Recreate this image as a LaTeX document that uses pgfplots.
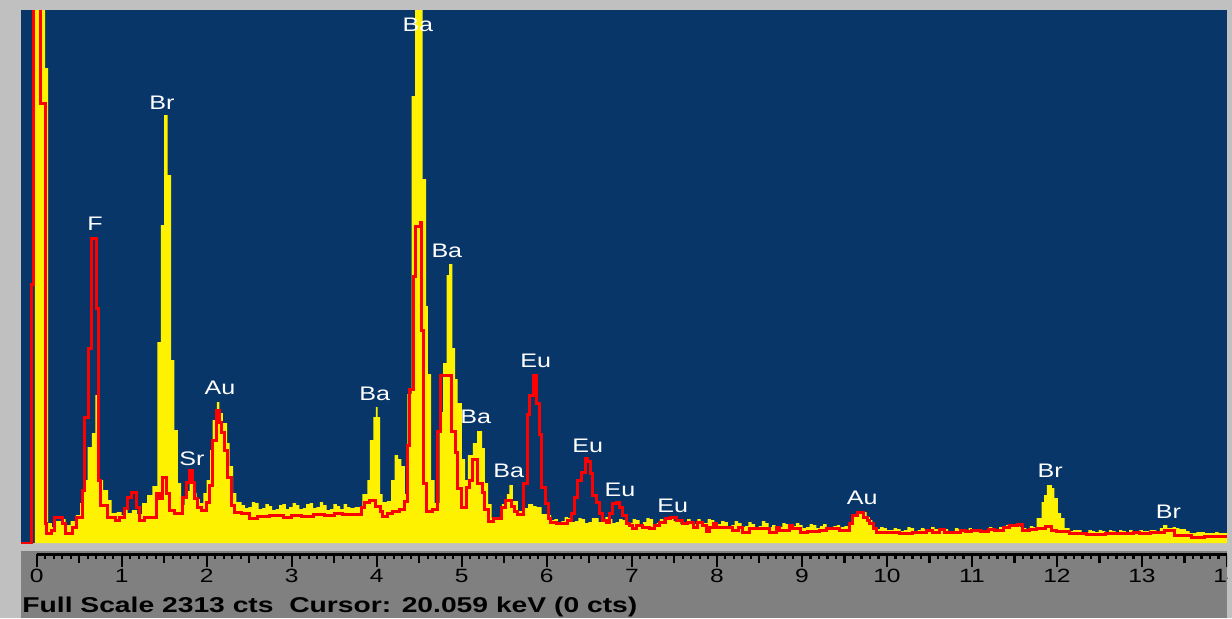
\documentclass[border=0pt]{standalone}
\usepackage{fontspec}
\setmainfont{Liberation Sans}
\newfontfamily\wfont[FakeStretch=1.28]{Liberation Sans}
\newfontfamily\wbfont[FakeStretch=1.32]{Liberation Sans}
\usepackage{pgfplots}
\pgfplotsset{compat=1.18}
\definecolor{bgblue}{HTML}{083668}
\definecolor{lgray}{HTML}{C0C0C0}
\definecolor{dgray}{HTML}{808080}
\tikzset{lbl/.style={text=white, font=\wfont\fontsize{9.8}{10}\selectfont, inner sep=0pt, anchor=center}}
\begin{document}
\begin{tikzpicture}
\path[use as bounding box] (0pt,0pt) rectangle (616pt,309pt);
\clip (0pt,0pt) rectangle (616pt,309pt);
\fill[lgray] (0pt,0pt) rectangle (616pt,309pt);
\fill[dgray] (10.5pt,0pt) rectangle (613.5pt,33.5pt);
\begin{axis}[at={(10.5pt,37.5pt)}, anchor=south west, scale only axis,
  width=603pt, height=266.5pt, xmin=-0.1846, xmax=14, ymin=0, ymax=533,
  axis background/.style={fill=bgblue}, axis line style={draw=none},
  xtick=\empty, ytick=\empty, clip=true]
\addplot[fill=yellow, draw=none, const plot mark left] coordinates {
(-0.19,0) (-0.02,600) (0.098,475) (0.133,20) (0.18,16) (0.22,22) (0.30,24) (0.34,18) (0.40,22) (0.46,28) (0.51,40) (0.55,63) (0.60,96) (0.65,110) (0.69,148) (0.71,116) (0.74,63) (0.78,53) (0.84,43) (0.88,30) (0.94,31) (1.00,28) (1.03,34) (1.07,30) (1.12,33) (1.18,29) (1.24,40) (1.30,48) (1.36,57) (1.42,201) (1.46,318) (1.50,428) (1.54,368) (1.58,183) (1.62,113) (1.66,60) (1.70,38) (1.74,46) (1.78,52) (1.80,63) (1.84,50) (1.88,44) (1.92,40) (1.96,50) (2.00,63) (2.04,93) (2.07,123) (2.12,141) (2.15,130) (2.19,120) (2.24,100) (2.27,77) (2.31,50) (2.35,41) (2.41,38) (2.45,35) (2.49,36) (2.53,41) (2.57,40) (2.61,34) (2.65,35) (2.69,39) (2.73,37) (2.77,33) (2.81,34) (2.85,38) (2.89,39) (2.93,34) (2.97,36) (3.01,40) (3.05,38) (3.09,34) (3.13,35) (3.17,39) (3.21,40) (3.25,35) (3.29,36) (3.33,41) (3.37,38) (3.41,33) (3.45,34) (3.49,39) (3.53,37) (3.57,34) (3.61,39) (3.65,36) (3.69,35) (3.74,36) (3.83,49) (3.89,63) (3.92,103) (3.96,126) (3.99,136) (4.01,126) (4.04,49) (4.07,41) (4.12,42) (4.17,63) (4.21,88) (4.25,84) (4.29,77) (4.33,49) (4.36,149) (4.41,447) (4.45,600) (4.54,364) (4.58,237) (4.60,169) (4.64,63) (4.68,40) (4.74,131) (4.78,180) (4.82,268) (4.85,279) (4.89,195) (4.92,164) (4.95,140) (5.00,84) (5.04,63) (5.07,88) (5.13,100) (5.18,112) (5.24,95) (5.27,60) (5.31,39) (5.35,25) (5.47,39) (5.53,49) (5.56,58) (5.60,42) (5.66,32) (5.72,35) (5.78,39) (5.84,37) (5.88,36) (5.94,29) (6.01,28) (6.05,23) (6.09,24) (6.13,21) (6.17,22) (6.21,26) (6.25,25) (6.29,21) (6.33,22) (6.37,25) (6.41,24) (6.45,20) (6.49,21) (6.53,25) (6.57,25) (6.61,21) (6.65,22) (6.69,26) (6.73,24) (6.77,20) (6.81,21) (6.85,24) (6.89,23) (6.93,19) (6.97,20) (7.01,24) (7.05,23) (7.09,19) (7.13,21) (7.17,25) (7.21,24) (7.25,19) (7.29,20) (7.33,24) (7.37,22) (7.41,25) (7.45,26) (7.49,22) (7.53,23) (7.57,19) (7.61,20) (7.65,24) (7.69,22) (7.73,19) (7.77,24) (7.81,21) (7.85,20) (7.89,24) (7.93,23) (7.97,18) (8.01,19) (8.05,22) (8.09,21) (8.13,17) (8.17,18) (8.21,22) (8.25,20) (8.29,16) (8.33,17) (8.37,21) (8.41,19) (8.45,16) (8.49,17) (8.53,22) (8.57,20) (8.61,16) (8.65,18) (8.69,15) (8.73,16) (8.77,20) (8.81,19) (8.85,15) (8.89,17) (8.93,20) (8.97,18) (9.01,15) (9.05,16) (9.09,19) (9.13,18) (9.17,15) (9.21,17) (9.25,19) (9.29,16) (9.33,15) (9.37,17) (9.41,18) (9.45,16) (9.50,17) (9.55,20) (9.60,26) (9.64,31) (9.71,31) (9.76,26) (9.80,23) (9.83,15) (9.88,14) (9.92,16) (9.96,15) (10.00,13) (10.04,13) (10.08,15) (10.12,14) (10.16,12) (10.20,13) (10.24,16) (10.28,15) (10.32,12) (10.36,13) (10.40,15) (10.44,14) (10.48,12) (10.52,16) (10.56,14) (10.60,13) (10.64,15) (10.68,14) (10.72,12) (10.76,12) (10.80,15) (10.84,14) (10.88,12) (10.92,13) (10.96,15) (11.00,12) (11.04,13) (11.08,14) (11.12,12) (11.16,13) (11.20,16) (11.24,15) (11.28,14) (11.32,16) (11.36,17) (11.40,18) (11.44,19) (11.48,17) (11.52,18) (11.56,16) (11.60,15) (11.64,14) (11.68,17) (11.72,16) (11.76,25) (11.82,41) (11.85,48) (11.88,58) (11.94,55) (11.97,45) (12.01,30) (12.05,25) (12.09,15) (12.15,12) (12.19,13) (12.25,13) (12.29,11) (12.33,11) (12.37,13) (12.41,12) (12.45,11) (12.49,13) (12.53,12) (12.57,11) (12.61,13) (12.65,12) (12.69,11) (12.73,13) (12.77,12) (12.81,11) (12.85,13) (12.89,12) (12.93,11) (12.97,13) (13.01,12) (13.05,12) (13.09,13) (13.13,13) (13.17,12) (13.21,15) (13.25,18) (13.30,15) (13.36,16) (13.40,15) (13.44,14) (13.52,12) (13.56,10) (13.60,10) (13.64,11) (13.70,11) (13.74,10) (13.80,10) (13.86,11) (13.90,10) (14.0,10)
} \closedcycle;
\addplot[red, line width=1.5pt, const plot mark left] coordinates {
(-0.19,0) (-0.059,259) (-0.032,600) (0.050,440) (0.098,20) (0.121,10) (0.18,13) (0.215,26) (0.303,20) (0.333,10) (0.427,16) (0.474,26) (0.533,53) (0.568,126) (0.609,195) (0.650,305) (0.709,235) (0.732,63) (0.756,38) (0.838,26) (0.921,23) (0.979,26) (1.038,35) (1.073,46) (1.120,51) (1.179,36) (1.215,23) (1.273,26) (1.414,50) (1.450,45) (1.479,66) (1.532,50) (1.567,33) (1.626,30) (1.720,46) (1.767,61) (1.802,73) (1.838,61) (1.861,45) (1.896,36) (1.943,33) (2.002,41) (2.038,58) (2.073,103) (2.120,133) (2.155,121) (2.179,111) (2.214,93) (2.249,66) (2.296,38) (2.331,31) (2.414,30) (2.508,25) (2.602,27) (2.743,28) (2.90,26) (3.00,28) (3.12,27) (3.25,29) (3.38,28) (3.50,30) (3.60,29) (3.74,29) (3.82,36) (3.86,41) (3.92,43) (3.98,37) (4.04,32) (4.07,27) (4.13,30) (4.19,32) (4.27,34) (4.33,42) (4.36,98) (4.39,154) (4.43,267) (4.46,317) (4.51,321) (4.53,213) (4.55,60) (4.59,32) (4.65,34) (4.71,112) (4.75,168) (4.88,112) (4.92,91) (4.95,55) (5.00,36) (5.06,56) (5.09,63) (5.13,84) (5.19,60) (5.24,51) (5.27,34) (5.31,22) (5.37,25) (5.47,36) (5.51,43) (5.59,37) (5.62,32) (5.66,29) (5.72,60) (5.77,129) (5.80,148) (5.84,168) (5.88,140) (5.91,109) (5.94,56) (5.98,40) (6.02,25) (6.04,21) (6.11,20) (6.24,23) (6.29,30) (6.33,46) (6.36,63) (6.41,71) (6.45,85) (6.48,82) (6.51,70) (6.54,48) (6.59,41) (6.62,30) (6.66,23) (6.70,21) (6.74,30) (6.77,40) (6.82,41) (6.86,36) (6.89,28) (6.94,20) (6.97,18) (7.01,15) (7.06,18) (7.13,16) (7.21,15) (7.27,18) (7.33,21) (7.39,25) (7.45,26) (7.53,23) (7.59,20) (7.66,21) (7.72,16) (7.77,21) (7.83,18) (7.88,12) (7.91,16) (7.96,20) (8.00,16) (8.18,13) (8.26,16) (8.30,11) (8.38,15) (8.62,11) (8.70,16) (8.74,13) (8.86,18) (8.89,15) (8.98,11) (9.07,12) (9.21,13) (9.29,15) (9.44,13) (9.56,20) (9.60,28) (9.65,31) (9.72,26) (9.77,23) (9.80,20) (9.84,15) (9.88,11) (10.15,10) (10.30,11) (10.47,13) (10.54,11) (10.62,14) (10.68,11) (10.86,13) (10.92,12) (11.00,13) (11.10,12) (11.20,14) (11.26,13) (11.37,16) (11.44,18) (11.53,19) (11.60,13) (11.68,14) (11.76,15) (11.86,17) (11.94,13) (12.00,12) (12.15,10) (12.35,9) (12.57,10) (12.90,11) (12.97,10) (13.10,11) (13.26,13) (13.38,8) (13.58,6) (13.73,7) (14.0,7)
};
\node[lbl] at (axis cs:0.685,319) {F};
\node[lbl] at (axis cs:1.473,440) {Br};
\node[lbl] at (axis cs:1.826,84) {Sr};
\node[lbl] at (axis cs:2.155,155) {Au};
\node[lbl] at (axis cs:3.977,149) {Ba};
\node[lbl] at (axis cs:4.483,518) {Ba};
\node[lbl] at (axis cs:4.824,292) {Ba};
\node[lbl] at (axis cs:5.165,126) {Ba};
\node[lbl] at (axis cs:5.553,72) {Ba};
\node[lbl] at (axis cs:5.87,182) {Eu};
\node[lbl] at (axis cs:6.48,97) {Eu};
\node[lbl] at (axis cs:6.86,53) {Eu};
\node[lbl] at (axis cs:7.48,37) {Eu};
\node[lbl] at (axis cs:9.71,45) {Au};
\node[lbl] at (axis cs:11.92,72) {Br};
\node[lbl] at (axis cs:13.31,31) {Br};
\end{axis}
\begin{scope}
\clip (0pt,0pt) rectangle (613.5pt,309pt);
\begin{axis}[at={(18.35pt,32pt)}, anchor=south west, scale only axis,
  width=595.15pt, height=2pt, xmin=0, xmax=14, ymin=0, ymax=1,
  axis x line=bottom, axis y line=none,
  x axis line style={-, line width=1.5pt, black},
  xtick={0,1,...,14}, minor x tick num=9,
  extra x ticks={0.5,1.5,...,13.5}, extra x tick labels={},
  extra x tick style={major tick length=4.5pt},
  tick align=outside, major tick length=6.5pt, minor tick length=2.5pt,
  every tick/.style={black, line width=1.1pt},
  /pgf/number format/assume math mode=true,
  xticklabel style={font=\wfont\fontsize{9.6}{10}\selectfont, inner sep=0pt, text=black, yshift=-1pt},
  clip=false]
\addplot[draw=none] coordinates {(0,0) (14,1)};
\end{axis}
\end{scope}
\node[anchor=base west, inner sep=0pt, font=\wbfont\bfseries\fontsize{10.7}{12}\selectfont] at (11pt,3pt) {Full Scale 2313 cts\ \ Cursor: 20.059 keV (0 cts)};
\end{tikzpicture}
\end{document}
